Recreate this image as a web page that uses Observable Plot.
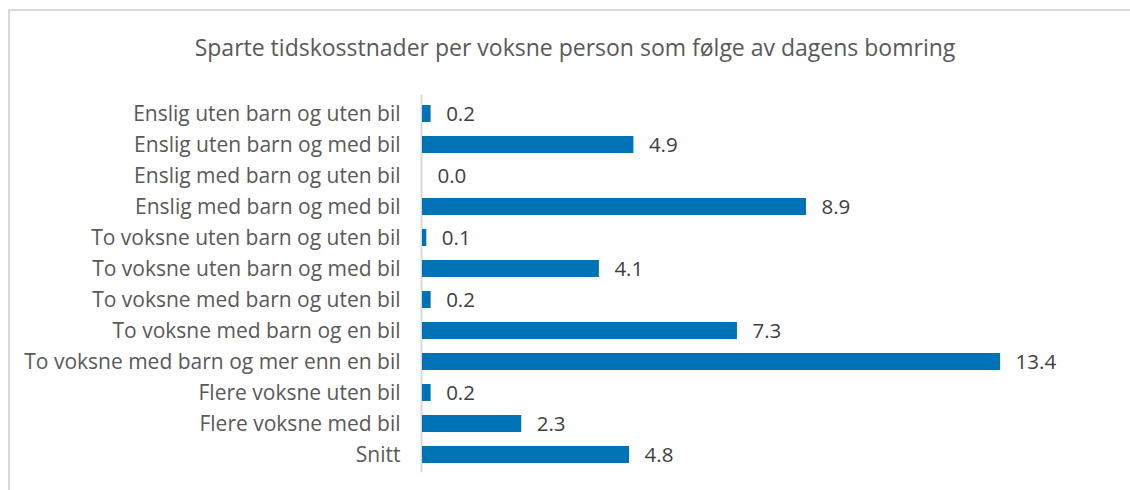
<!DOCTYPE html>
<html>
<head>
<meta charset="utf-8">
<script src="https://cdn.jsdelivr.net/npm/d3@7"></script>
<script src="https://cdn.jsdelivr.net/npm/@observablehq/plot@0.6"></script>
<style>
  body { margin: 0; background: #fff; }
  #wrap { position: relative; width: 1130px; height: 490px; overflow: hidden; font-family: "Open Sans", sans-serif; }
  #frame { position: absolute; left: 8px; top: 9px; right: -10px; bottom: -10px; border-top: 2px solid #d9d9d9; border-left: 2px solid #d9d9d9; }
  #title { position: absolute; left: 0; top: 31px; width: 1150px; text-align: center; font-size: 23px; color: #595959; }
  #chart { position: absolute; left: 0; top: 80px; }
</style>
</head>
<body>
<div id="wrap">
  <div id="frame"></div>
  <div id="title">Sparte tidskosstnader per voksne person som følge av dagens bomring</div>
  <div id="chart"></div>
</div>
<script>
const categories = [
  "Enslig uten barn og uten bil",
  "Enslig uten barn og med bil",
  "Enslig med barn og uten bil",
  "Enslig med barn og med bil",
  "To voksne uten barn og uten bil",
  "To voksne uten barn og med bil",
  "To voksne med barn og uten bil",
  "To voksne med barn og en bil",
  "To voksne med barn og mer enn en bil",
  "Flere voksne uten bil",
  "Flere voksne med bil",
  "Snitt"
];
const values = [0.2, 4.9, 0.0, 8.9, 0.1, 4.1, 0.2, 7.3, 13.4, 0.2, 2.3, 4.8];
const labels = ["0.2", "4.9", "0.0", "8.9", "0.1", "4.1", "0.2", "7.3", "13.4", "0.2", "2.3", "4.8"];

const data = categories.map((c, i) => ({ category: c, value: values[i], label: labels[i] }));

const chart = Plot.plot({
  width: 1130,
  height: 410,
  marginLeft: 422,
  marginRight: 104,
  marginTop: 14.7,
  marginBottom: 17.7,
  style: { fontFamily: "Open Sans, sans-serif", color: "#595959", background: "transparent" },
  x: { domain: [0, 14], axis: null },
  y: { domain: categories, paddingInner: 0.46, paddingOuter: 0.25, label: null, tickSize: 0, tickPadding: 22 },
  marks: [
    Plot.ruleX([0], { stroke: "#d9d9d9", strokeWidth: 2, dx: -1 }),
    Plot.barX(data, { x: "value", y: "category", fill: "#0072b6" }),
    Plot.text(data, { x: "value", y: "category", text: "label", textAnchor: "start", dx: 15, fontSize: 20.5, fill: "#404040" }),
    Plot.axisY({ tickSize: 0, tickPadding: 22, fontSize: 21, label: null, fill: "#595959" })
  ]
});
document.getElementById("chart").appendChild(chart);
</script>
</body>
</html>
